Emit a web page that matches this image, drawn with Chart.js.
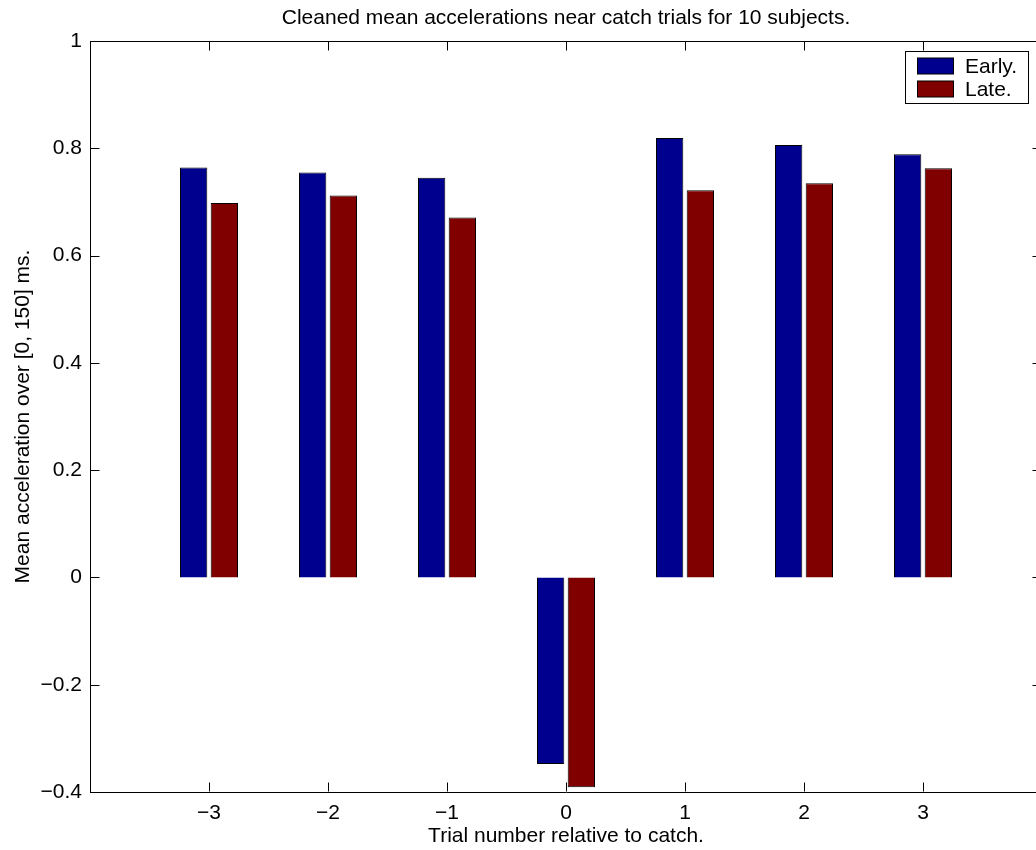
<!DOCTYPE html>
<html>
<head>
  <meta charset="UTF-8">
  <title>Cleaned mean accelerations</title>
  <script src="https://cdn.jsdelivr.net/npm/chart.js@4.4.1/dist/chart.umd.min.js"></script>
  <style>
    html, body { margin: 0; padding: 0; background: #fff; overflow: hidden; }
    #wrap { width: 1044px; height: 850px; }
    canvas { display: block; }
  </style>
</head>
<body>
<div id="wrap"><canvas id="chart" width="1044" height="850"></canvas></div>

<script>
  // values
  var trials = [-3, -2, -1, 0, 1, 2, 3];
  var earlyMeans = [0.764, 0.755, 0.745, -0.348, 0.819, 0.806, 0.789];
  var lateMeans = [0.698, 0.712, 0.671, -0.391, 0.722, 0.735, 0.763];
  var seriesNames = ['Early.', 'Late.'];
  var yTicks = [-0.4, -0.2, 0, 0.2, 0.4, 0.6, 0.8, 1];

  var FONT = '"Liberation Sans", Arial, Helvetica, sans-serif';
  var minus = function (s) { return s.replace('-', '\u2212'); };

  function points(vals) {
    return trials.map(function (t, i) { return { x: t, y: vals[i] }; });
  }

  // MATLAB style frame: inward ticks on all four sides + legend box
  var frame = {
    id: 'frame',
    afterDraw: function (chart) {
      var ctx = chart.ctx, a = chart.chartArea;
      var xs = chart.scales.x, ys = chart.scales.y;
      var L = Math.round(a.left) + 0.5, R = Math.round(a.right) - 0.5;
      var T = Math.round(a.top) + 0.5, B = Math.round(a.bottom) - 0.5;
      ctx.save();
      ctx.strokeStyle = '#000';
      ctx.lineWidth = 1;
      ctx.beginPath();
      ctx.moveTo(L, T); ctx.lineTo(R, T); ctx.lineTo(R, B);
      xs.ticks.forEach(function (t) {
        if (t.value <= xs.min || t.value >= xs.max) return;
        var px = Math.round(xs.getPixelForValue(t.value)) + 0.5;
        ctx.moveTo(px, B); ctx.lineTo(px, B - 9);
        ctx.moveTo(px, T); ctx.lineTo(px, T + 9);
      });
      yTicks.forEach(function (v) {
        var py = Math.round(ys.getPixelForValue(v)) + 0.5;
        ctx.moveTo(L, py); ctx.lineTo(L + 9, py);
        ctx.moveTo(R, py); ctx.lineTo(R - 9, py);
      });
      ctx.stroke();

      // legend
      var bx = 905.5, by = 51.5, bw = 123, bh = 52;
      ctx.fillStyle = '#fff';
      ctx.fillRect(bx, by, bw, bh);
      ctx.strokeRect(bx, by, bw, bh);
      ctx.font = '21px ' + FONT;
      ctx.textBaseline = 'middle';
      ctx.textAlign = 'left';
      chart.data.datasets.forEach(function (ds, i) {
        var cy = 66 + i * 23;
        ctx.fillStyle = ds.backgroundColor;
        ctx.fillRect(917.5, cy - 8, 36, 16);
        ctx.strokeRect(917.5, cy - 8, 36, 16);
        ctx.fillStyle = '#000';
        ctx.fillText(ds.label, 965, cy + 1);
      });
      ctx.restore();
    }
  };

  new Chart(document.getElementById('chart').getContext('2d'), {
    type: 'bar',
    data: {
      datasets: [{
        label: seriesNames[0],
        data: points(earlyMeans),
        backgroundColor: '#00008f',
        borderColor: '#000',
        borderWidth: 1,
        categoryPercentage: 0.516,
        barPercentage: 0.89
      }, {
        label: seriesNames[1],
        data: points(lateMeans),
        backgroundColor: '#800000',
        borderColor: '#000',
        borderWidth: 1,
        categoryPercentage: 0.516,
        barPercentage: 0.89
      }]
    },
    options: {
      responsive: false,
      animation: false,
      devicePixelRatio: 1,
      // the right edge of the axes box sits just outside the picture
      layout: { padding: { left: 0, right: 2, top: 0, bottom: 0 } },
      plugins: {
        legend: { display: false },
        tooltip: { enabled: false },
        title: {
          display: true,
          fullSize: false,
          text: 'Cleaned mean accelerations near catch trials for 10 subjects.',
          color: '#000',
          font: { family: FONT, size: 21, weight: 'normal', lineHeight: '25px' },
          padding: { top: 6, bottom: 10 }
        }
      },
      scales: {
        x: {
          type: 'linear',
          min: -4,
          max: 4,
          offset: false,
          grid: { display: false, drawTicks: true, tickLength: 9, offset: false },
          border: { display: true, color: '#000', width: 1 },
          ticks: {
            stepSize: 1,
            autoSkip: false,
            maxRotation: 0,
            padding: 0,
            color: '#000',
            font: { family: FONT, size: 21 },
            callback: function (v) { return (v <= -4 || v >= 4) ? '' : minus(String(v)); }
          },
          title: {
            display: true,
            text: 'Trial number relative to catch.',
            color: '#000',
            font: { family: FONT, size: 21 },
            padding: { top: 0, bottom: 1 }
          },
          afterFit: function (s) { s.height = 58; }
        },
        y: {
          min: -0.4,
          max: 1,
          grid: { display: false, drawTicks: false },
          border: { display: true, color: '#000', width: 1 },
          ticks: {
            stepSize: 0.2,
            padding: 8,
            color: '#000',
            font: { family: FONT, size: 21 },
            callback: function (v) { return minus(String(Math.round(v * 10) / 10)); }
          },
          title: {
            display: true,
            text: 'Mean acceleration over [0, 150] ms.',
            color: '#000',
            font: { family: FONT, size: 21 },
            padding: { top: 11, bottom: 0 }
          },
          afterFit: function (s) { s.width = 90; }
        }
      }
    },
    plugins: [frame]
  });
</script>
</body>
</html>
